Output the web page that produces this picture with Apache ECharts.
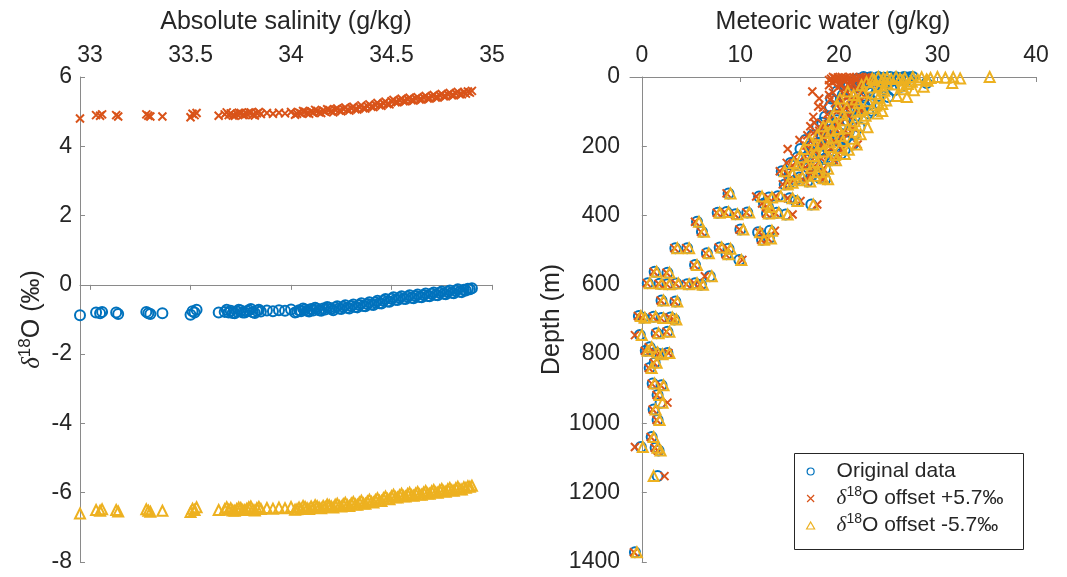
<!DOCTYPE html>
<html lang="en">
<head>
<meta charset="UTF-8">
<script src="https://cdn.jsdelivr.net/npm/echarts@6/dist/echarts.min.js"></script>
<title>d18O and meteoric water</title>
<style>html,body{margin:0;padding:0;background:#fff;}</style>
</head>
<body>
<div id="main" style="width:1067px;height:577px;"></div>
<script>
// left panel: d18O against absolute salinity
var salinity = [32.95, 33.03, 33.05, 33.06, 33.13, 33.14, 33.28, 33.29, 33.30, 33.36,
  33.50, 33.51, 33.52, 33.53, 33.64, 33.67, 33.69, 33.70, 33.72, 33.73,
  33.75, 33.76, 33.78, 33.80, 33.81, 33.83, 33.85, 33.88, 33.91, 33.94,
  33.97, 34.00, 34.03, 34.04, 34.05, 34.07, 34.08, 34.10, 34.11, 34.13,
  34.14, 34.16, 34.17, 34.19, 34.20, 34.22, 34.24, 34.26, 34.28, 34.30,
  34.32, 34.34, 34.36, 34.38, 34.40, 34.42, 34.44, 34.46, 34.48, 34.50,
  34.52, 34.54, 34.56, 34.58, 34.60, 34.62, 34.64, 34.66, 34.68, 34.70,
  34.72, 34.74, 34.76, 34.78, 34.80, 34.82, 34.84, 34.86, 34.87, 34.88,
  34.89, 34.90,
  33.68, 33.71, 33.74, 33.77, 33.79, 33.82, 33.84,
  34.02, 34.06, 34.09, 34.12, 34.15, 34.18, 34.21, 34.23, 34.25, 34.27,
  34.29, 34.31, 34.33, 34.35, 34.37, 34.39, 34.41, 34.43, 34.45, 34.47,
  34.49, 34.51, 34.53, 34.55, 34.57, 34.59, 34.61, 34.63, 34.65, 34.67,
  34.69, 34.71, 34.73, 34.75, 34.77, 34.79, 34.81, 34.83, 34.85];
var d18oOriginal = [-0.88, -0.80, -0.82, -0.78, -0.80, -0.84, -0.78, -0.82, -0.84, -0.82,
  -0.86, -0.76, -0.80, -0.72, -0.80, -0.78, -0.80, -0.75, -0.82, -0.77,
  -0.74, -0.80, -0.76, -0.70, -0.79, -0.75, -0.77, -0.74, -0.76, -0.73,
  -0.75, -0.71, -0.78, -0.73, -0.76, -0.71, -0.75, -0.70, -0.74, -0.69,
  -0.73, -0.68, -0.71, -0.66, -0.70, -0.65, -0.68, -0.63, -0.66, -0.61,
  -0.64, -0.58, -0.61, -0.55, -0.57, -0.51, -0.53, -0.46, -0.48, -0.40,
  -0.43, -0.37, -0.40, -0.34, -0.37, -0.32, -0.35, -0.29, -0.32, -0.26,
  -0.29, -0.23, -0.26, -0.20, -0.23, -0.17, -0.20, -0.14, -0.16, -0.11,
  -0.13, -0.10,
  -0.72, -0.81, -0.72, -0.80, -0.73, -0.81, -0.72,
  -0.80, -0.68, -0.77, -0.66, -0.75, -0.64, -0.73, -0.62, -0.70, -0.59,
  -0.68, -0.57, -0.65, -0.53, -0.62, -0.50, -0.58, -0.46, -0.54, -0.41,
  -0.49, -0.36, -0.44, -0.33, -0.41, -0.30, -0.39, -0.28, -0.36, -0.25,
  -0.33, -0.22, -0.30, -0.19, -0.27, -0.16, -0.24, -0.13, -0.21];
var d18oPlus = [4.80, 4.90, 4.88, 4.92, 4.90, 4.86, 4.92, 4.88, 4.86, 4.86,
  4.84, 4.94, 4.90, 4.96, 4.88, 4.92, 4.90, 4.95, 4.88, 4.93,
  4.96, 4.90, 4.94, 4.98, 4.91, 4.95, 4.93, 4.96, 4.94, 4.97,
  4.95, 4.99, 4.94, 4.98, 4.95, 5.00, 4.96, 5.01, 4.97, 5.02,
  4.98, 5.03, 5.00, 5.05, 5.01, 5.06, 5.03, 5.08, 5.05, 5.10,
  5.07, 5.13, 5.10, 5.16, 5.14, 5.20, 5.18, 5.24, 5.22, 5.30,
  5.27, 5.33, 5.30, 5.36, 5.33, 5.38, 5.35, 5.41, 5.38, 5.44,
  5.41, 5.47, 5.44, 5.50, 5.47, 5.53, 5.50, 5.56, 5.52, 5.58,
  5.55, 5.60,
  4.98, 4.89, 4.97, 4.90, 4.98, 4.89, 4.99,
  4.91, 5.02, 4.94, 5.05, 4.96, 5.07, 4.98, 5.09, 5.01, 5.12,
  5.03, 5.14, 5.06, 5.18, 5.09, 5.21, 5.13, 5.25, 5.17, 5.29,
  5.21, 5.34, 5.27, 5.37, 5.30, 5.40, 5.32, 5.42, 5.35, 5.45,
  5.38, 5.48, 5.41, 5.51, 5.44, 5.54, 5.47, 5.57, 5.50];
var d18oMinus = [-6.60, -6.50, -6.52, -6.48, -6.50, -6.54, -6.48, -6.52, -6.55, -6.52,
  -6.56, -6.46, -6.50, -6.42, -6.50, -6.48, -6.49, -6.45, -6.52, -6.47,
  -6.44, -6.50, -6.46, -6.40, -6.49, -6.45, -6.47, -6.44, -6.46, -6.43,
  -6.45, -6.41, -6.48, -6.43, -6.46, -6.41, -6.45, -6.40, -6.44, -6.39,
  -6.43, -6.38, -6.41, -6.36, -6.40, -6.35, -6.38, -6.33, -6.36, -6.31,
  -6.34, -6.28, -6.31, -6.25, -6.27, -6.21, -6.23, -6.16, -6.18, -6.10,
  -6.13, -6.07, -6.10, -6.04, -6.07, -6.02, -6.05, -5.99, -6.02, -5.96,
  -5.99, -5.93, -5.96, -5.90, -5.93, -5.87, -5.90, -5.84, -5.86, -5.81,
  -5.83, -5.80,
  -6.42, -6.51, -6.43, -6.50, -6.42, -6.51, -6.41,
  -6.49, -6.38, -6.47, -6.36, -6.45, -6.34, -6.43, -6.32, -6.40, -6.29,
  -6.38, -6.27, -6.35, -6.23, -6.32, -6.20, -6.28, -6.16, -6.24, -6.11,
  -6.19, -6.06, -6.14, -6.03, -6.11, -6.00, -6.09, -5.98, -6.06, -5.95,
  -6.03, -5.92, -6.00, -5.89, -5.97, -5.86, -5.94, -5.83, -5.91];

// right panel: meteoric water against depth
var depth = [0, 1, 0, 2, 0, 1, 3, 0, 2, 1, 4, 0, 17, 8, 10, 6, 12, 5, 15, 20,
  22, 25, 30, 35, 28, 40, 42, 45, 55, 60, 65, 70, 78, 88, 90, 100, 105, 115, 120, 125,
  132, 138, 145, 150, 158, 162, 170, 178, 182, 188, 195, 198, 205, 208, 215, 222, 228, 235, 240, 248,
  252, 258, 265, 272, 280, 285, 292, 298, 302, 310, 336, 345, 348, 344, 350, 358, 368, 365, 375, 392,
  390, 396, 391, 394, 392, 397, 418, 447, 440, 448, 444, 470, 466, 494, 494, 492, 496, 509, 512, 528,
  543, 562, 565, 575, 595, 597, 598, 596, 598, 595, 600, 645, 648, 690, 695, 692, 696, 694, 700, 745,
  740, 735, 780, 790, 795, 797, 800, 825, 840, 885, 890, 918, 940, 960, 990, 1039, 1068, 1070, 1078, 1152,
  1372,
  3, 5, 7, 9, 11, 14, 18, 24, 27, 33, 38, 48, 52, 58, 62, 68, 75, 82, 85, 95,
  98, 108, 112, 128, 135, 142, 148, 155, 165, 168, 175, 185, 192, 202, 210, 218, 225, 232, 245, 255,
  262, 275, 290, 295, 305];
var mwOriginal = [22.5, 23.2, 24.0, 24.6, 25.2, 25.8, 26.2, 26.6, 26.9, 27.2, 27.0, 27.5, 28.9, 25.5, 24.3, 23.4, 22.7, 21.9, 21.5, 25.0,
  23.9, 22.6, 21.8, 24.6, 26.3, 23.0, 19.8, 21.2, 24.0, 22.6, 20.6, 21.8, 23.2, 19.9, 22.0, 20.8, 23.0, 18.6, 21.6, 19.8,
  18.3, 20.6, 22.1, 19.3, 21.0, 18.1, 19.6, 20.7, 16.6, 18.6, 21.4, 17.2, 19.7, 16.1, 18.0, 20.2, 16.9, 18.6, 19.3, 15.1,
  16.4, 17.7, 18.6, 14.2, 15.0, 17.2, 18.1, 15.6, 16.8, 14.5, 8.8, 11.9, 12.9, 13.8, 15.0, 15.6, 17.2, 12.4, 12.8, 7.7,
  8.6, 9.5, 10.7, 12.7, 13.7, 14.6, 5.6, 6.1, 10.0, 11.8, 13.0, 12.2, 12.9, 3.4, 4.6, 7.9, 8.8, 6.6, 8.6, 9.9,
  5.4, 1.3, 2.6, 6.9, 0.6, 1.8, 2.6, 3.5, 4.6, 5.4, 6.0, 2.0, 3.4, -0.3, 0.1, 1.2, 2.0, 2.9, 3.3, -0.2,
  1.5, 2.6, 0.8, 0.4, 1.4, 2.6, 1.9, 1.3, 0.8, 1.1, 2.0, 1.6, 1.9, 1.2, 1.6, 1.0, -0.1, 1.4, 1.7, 1.6,
  -0.7,
  22.8, 24.2, 25.9, 22.0, 26.8, 24.9, 23.1, 21.0, 24.5, 22.9, 25.6, 22.2, 20.4, 25.0, 19.2, 23.3, 20.9, 22.6, 19.1, 21.3,
  23.4, 19.7, 21.9, 20.9, 19.0, 17.8, 20.2, 18.6, 21.6, 17.3, 18.9, 19.9, 17.8, 18.7, 20.6, 17.3, 19.2, 15.8, 17.4, 15.5,
  16.9, 17.6, 16.0, 18.6, 15.0];
var mwPlus = [19.4, 19.9, 20.3, 20.7, 21.1, 21.5, 21.8, 22.1, 22.4, 22.7, 22.6, 23.0, 23.4, 21.2, 20.6, 20.0, 19.6, 19.2, 19.3, 21.4,
  20.9, 20.2, 19.9, 21.6, 22.2, 20.7, 17.3, 19.4, 21.9, 20.8, 19.1, 20.3, 21.6, 18.4, 20.7, 19.8, 22.0, 17.4, 20.6, 19.0,
  17.5, 19.8, 21.4, 18.6, 20.4, 17.4, 19.0, 20.2, 16.0, 18.0, 21.9, 16.7, 19.2, 14.8, 17.6, 19.9, 16.5, 18.2, 19.5, 14.7,
  16.1, 17.5, 18.4, 14.0, 14.8, 17.0, 18.5, 15.4, 16.6, 14.3, 8.6, 11.6, 12.8, 13.6, 14.8, 16.1, 17.8, 12.2, 12.7, 7.6,
  8.4, 9.4, 10.6, 12.6, 13.5, 15.3, 5.4, 6.0, 9.9, 11.9, 13.5, 12.1, 12.8, 3.3, 4.5, 7.8, 8.7, 6.5, 8.5, 10.2,
  5.3, 1.2, 2.5, 6.4, 0.5, 1.7, 2.5, 3.4, 4.5, 5.3, 5.9, 1.9, 3.3, -0.4, 0.0, 1.1, 1.9, 2.8, 3.2, -0.7,
  1.4, 2.5, 0.7, 0.3, 1.3, 2.7, 1.8, 1.2, 0.7, 1.0, 1.9, 1.5, 2.6, 1.1, 1.5, 0.9, -0.7, 1.3, 1.6, 2.3,
  -0.8,
  19.6, 20.4, 21.7, 19.0, 22.6, 21.3, 20.1, 19.0, 21.1, 20.6, 22.5, 20.5, 19.0, 22.6, 18.0, 21.5, 19.6, 21.2, 17.9, 20.2,
  22.3, 18.8, 21.0, 20.1, 18.3, 17.1, 19.6, 18.0, 21.0, 16.8, 18.4, 19.5, 17.4, 18.3, 20.3, 16.9, 18.9, 15.5, 17.1, 15.3,
  16.6, 17.3, 15.8, 18.4, 14.8];
var mwMinus = [24.0, 24.9, 25.8, 26.7, 27.5, 28.4, 29.3, 30.0, 30.8, 31.6, 32.3, 35.3, 31.5, 28.0, 26.5, 25.3, 24.4, 23.4, 22.8, 27.0,
  25.6, 24.2, 23.2, 26.6, 28.6, 24.6, 20.9, 22.4, 25.9, 24.0, 21.7, 23.0, 24.4, 20.8, 23.4, 21.8, 23.9, 19.3, 22.5, 20.5,
  19.0, 21.4, 22.9, 20.0, 21.7, 18.7, 20.2, 21.3, 17.0, 19.1, 21.8, 17.6, 20.1, 16.4, 18.4, 20.6, 17.3, 19.0, 19.7, 15.4,
  16.7, 18.0, 18.9, 14.5, 15.3, 17.6, 18.4, 15.9, 17.1, 14.8, 9.0, 12.2, 13.2, 14.1, 15.3, 15.8, 17.4, 12.7, 13.0, 7.9,
  8.8, 9.7, 10.9, 12.9, 13.9, 14.8, 5.8, 6.3, 10.3, 12.0, 13.2, 12.4, 13.1, 3.6, 4.8, 8.1, 9.0, 6.8, 8.8, 10.1,
  5.6, 1.5, 2.8, 7.1, 0.8, 2.0, 2.8, 3.7, 4.8, 5.6, 6.2, 2.2, 3.6, -0.1, 0.3, 1.4, 2.2, 3.1, 3.5, 0.0,
  1.7, 2.8, 1.0, 0.6, 1.6, 2.8, 2.1, 1.5, 1.0, 1.3, 2.2, 1.8, 2.1, 1.4, 1.8, 1.2, 0.1, 1.6, 1.9, 1.2,
  -0.5,
  24.5, 26.2, 28.9, 23.6, 29.0, 27.4, 24.9, 22.3, 26.4, 24.5, 27.6, 23.7, 21.5, 26.9, 20.1, 24.8, 22.0, 23.8, 19.9, 22.3,
  24.4, 20.4, 22.7, 21.6, 19.6, 18.4, 20.9, 19.2, 22.2, 17.8, 19.4, 20.4, 18.2, 19.1, 21.0, 17.7, 19.6, 16.2, 17.8, 15.8,
  17.2, 17.9, 16.3, 18.9, 15.3];

var salinityTicks = [33, 33.5, 34, 34.5, 35];
var meteoricTicks = [0, 10, 20, 30, 40];
var seriesNames = ['Original data', 'δ18O offset +5.7‰', 'δ18O offset -5.7‰'];

var FONT = '"Liberation Sans", Arial, Helvetica, sans-serif';
var TXT = '#262626';
var AX = '#8a8a8a';
var colors = ['#0072BD', '#D95319', '#EDB120'];
var symbols = ['circle', 'path://M0,0L10,10M10,0L0,10', 'path://M5,0L10,8.7L0,8.7Z'];
var sizes = [10, 8, 10];

// turn 'δ18O ...' into rich text with italic delta and superscript 18
function richText(s) {
  if (s.indexOf('δ18O') === 0) {
    return '{d|δ}{s|18}{n|O' + s.slice(4) + '}';
  }
  return '{n|' + s + '}';
}

function richStyles(size, lh) {
  return {
    n: {fontSize: size, fontFamily: FONT, color: TXT, lineHeight: lh},
    d: {fontSize: size, fontFamily: '"Liberation Serif", "DejaVu Serif", serif', fontStyle: 'italic', color: TXT, lineHeight: lh},
    s: {fontSize: Math.round(size * 0.68), fontFamily: FONT, color: TXT, verticalAlign: 'top', lineHeight: Math.round(lh * 0.62)}
  };
}

function axisBase() {
  return {
    type: 'value',
    axisLine: {show: true, lineStyle: {color: AX, width: 1}},
    axisTick: {show: true, inside: true, length: 5, lineStyle: {color: AX, width: 1}},
    axisLabel: {fontSize: 23, fontFamily: FONT, color: TXT},
    splitLine: {show: false},
    nameTextStyle: {fontSize: 25, fontFamily: FONT, color: TXT}
  };
}

function pairs(xs, ys) {
  return xs.map(function (x, i) { return [x, ys[i]]; });
}

function scatter(k, idx, data) {
  return {
    name: seriesNames[k],
    type: 'scatter',
    xAxisIndex: idx,
    yAxisIndex: idx,
    symbol: symbols[k],
    symbolSize: sizes[k],
    itemStyle: {color: 'transparent', borderColor: colors[k], borderWidth: 2, opacity: 1},
    data: data,
    silent: true
  };
}

var x0 = axisBase();
x0.gridIndex = 0; x0.position = 'top';
x0.min = 32.95; x0.max = 35;
x0.name = 'Absolute salinity (g/kg)'; x0.nameLocation = 'middle'; x0.nameGap = 42;
x0.axisTick.customValues = salinityTicks;
x0.axisLabel.customValues = salinityTicks; x0.axisLabel.margin = 10;

var y0 = axisBase();
y0.gridIndex = 0; y0.min = -8; y0.max = 6; y0.interval = 2;
y0.name = richText('δ18O (‰)'); y0.nameLocation = 'middle'; y0.nameGap = 33;
y0.nameTextStyle.rich = richStyles(25, 30);
y0.axisLabel.margin = 8;

var x1 = axisBase();
x1.gridIndex = 1; x1.position = 'top';
x1.min = -1.2; x1.max = 40;
x1.name = 'Meteoric water (g/kg)'; x1.nameLocation = 'middle'; x1.nameGap = 42;
x1.axisTick.customValues = meteoricTicks;
x1.axisLabel.customValues = meteoricTicks; x1.axisLabel.margin = 10;

var y1 = axisBase();
y1.gridIndex = 1; y1.min = 0; y1.max = 1400; y1.interval = 200; y1.inverse = true;
y1.name = 'Depth (m)'; y1.nameLocation = 'middle'; y1.nameGap = 62;
y1.axisLabel.margin = 10;
y1.axisLabel.formatter = function (v) { return String(v); };

var chart = echarts.init(document.getElementById('main'));
chart.setOption({
  animation: false,
  backgroundColor: '#fff',
  textStyle: {fontFamily: FONT},
  grid: [
    {left: 80, top: 77, width: 412, height: 485},
    {left: 630, top: 77, width: 406, height: 485}
  ],
  xAxis: [x0, x1],
  yAxis: [y0, y1],
  graphic: [{
    type: 'rect', z: 50,
    shape: {x: 794.5, y: 453.5, width: 229, height: 96},
    style: {fill: '#fff', stroke: '#262626', lineWidth: 1}
  }],
  legend: {
    z: 60,
    left: 806, top: 458,
    orient: 'vertical',
    padding: 0,
    itemGap: 0,
    itemWidth: 42,
    itemHeight: 7,
    selectedMode: false,
    data: seriesNames.map(function (n, k) {
      return {name: n, icon: symbols[k], itemStyle: {color: 'transparent', borderColor: colors[k], borderWidth: 1.2}};
    }),
    formatter: function (n) { return richText(n); },
    textStyle: {fontSize: 21, color: TXT, lineHeight: 27, rich: richStyles(21, 27)}
  },
  series: [
    scatter(0, 0, pairs(salinity, d18oOriginal)),
    scatter(1, 0, pairs(salinity, d18oPlus)),
    scatter(2, 0, pairs(salinity, d18oMinus)),
    scatter(0, 1, pairs(mwOriginal, depth)),
    scatter(1, 1, pairs(mwPlus, depth)),
    scatter(2, 1, pairs(mwMinus, depth))
  ]
});
</script>
</body>
</html>
